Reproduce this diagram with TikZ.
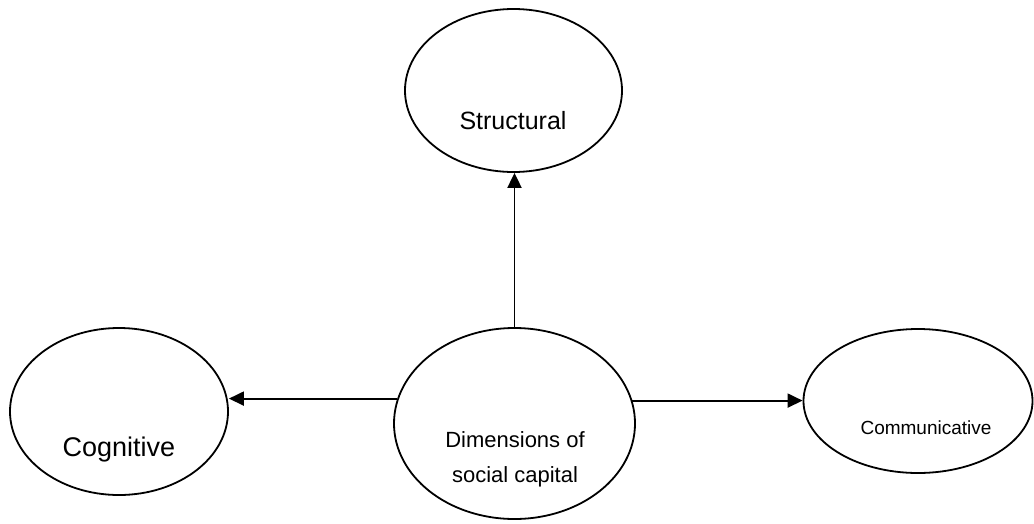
\documentclass[tikz,border=0pt]{standalone}
\usepackage{fontspec}
\setmainfont{Liberation Sans}
\usepackage{tikz}
\usetikzlibrary{arrows.meta,shapes.geometric}
\tikzset{
  bubble/.style     = {ellipse,draw,line width=1.8pt,inner sep=0pt},
  linkarr/.style    = {-{Triangle[length=15pt,width=14pt]},line width=1.9pt},
  bubbletext/.style = {anchor=base,align=center}
}

\begin{document}
\begin{tikzpicture}[x=1pt,y=-1pt]
  \useasboundingbox (0,0) rectangle (1034,523);
  \node[bubble,minimum width=217pt,minimum height=163pt] (structural) at (513.5,90.5) {};
  \node[bubble,minimum width=218pt,minimum height=167pt] (cognitive)  at (119,411.5) {};
  \node[bubble,minimum width=241pt,minimum height=191pt] (dims)       at (514.5,423.5) {};
  \node[bubble,minimum width=229pt,minimum height=144pt] (comm)       at (918,401) {};
  \node[bubbletext,font=\fontsize{25}{30}\selectfont] (structuraltxt) at (513,129.5) {Structural};
  \node[bubbletext,font=\fontsize{27}{32}\selectfont] (cognitivetxt)  at (119,456.5) {Cognitive};
  \node[bubbletext,font=\fontsize{22}{35}\selectfont] (dimstxt)       at (515,482) {Dimensions of\\social capital};
  \node[bubbletext,font=\fontsize{19}{23}\selectfont] (commtxt)       at (926,434) {Communicative};
  \draw[linkarr] (dims.north) -- (dims.north |- structural.south);
  \draw[linkarr] (dims.168.6) -- (dims.168.6 -| cognitive.east);
  \draw[linkarr] (dims.11.4)  -- (dims.11.4 -| comm.west);
\end{tikzpicture}
\end{document}
